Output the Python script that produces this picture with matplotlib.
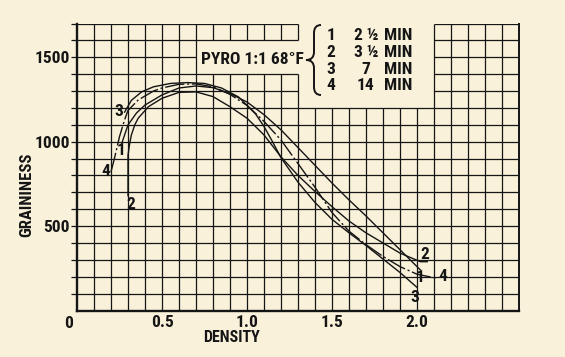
import numpy as np
import matplotlib
matplotlib.use("Agg")
import matplotlib.pyplot as plt
from matplotlib.path import Path
from matplotlib.patches import PathPatch

plt.rcParams['font.family'] = ['Liberation Sans Narrow', 'DejaVu Sans Condensed', 'Roboto Condensed',
                               'Open Sans Condensed', 'Noto Sans', 'DejaVu Sans']
plt.rcParams['font.stretch'] = 'condensed'

# density / graininess values
dens1 = [0.26, 0.28, 0.30, 0.35, 0.40, 0.50, 0.60, 0.70, 0.80, 0.90, 1.00, 1.10, 1.20, 1.30, 1.40, 1.50, 1.60, 1.70, 1.80, 1.90, 2.02]
grain1 = [980, 1040, 1099, 1170, 1217, 1277, 1318, 1330, 1320, 1285, 1235, 1160, 1070, 965, 860, 755, 655, 560, 460, 360, 240]

dens2 = [0.30, 0.30, 0.31, 0.32, 0.34, 0.36, 0.42, 0.50, 0.60, 0.70, 0.80, 0.90, 1.00, 1.10, 1.20, 1.30, 1.40, 1.50, 1.60, 1.70, 1.80, 1.90, 2.02, 2.06]
grain2 = [680, 920, 990, 1040, 1100, 1139, 1207, 1257, 1292, 1295, 1267, 1207, 1139, 1040, 910, 800, 705, 615, 530, 460, 400, 340, 289, 289]

dens3 = [0.28, 0.32, 0.38, 0.45, 0.55, 0.65, 0.75, 0.85, 0.95, 1.05, 1.10, 1.15, 1.20, 1.30, 1.40, 1.50, 1.60, 1.70, 1.80, 1.90, 2.00]
grain3 = [1175, 1245, 1295, 1325, 1345, 1350, 1345, 1318, 1265, 1165, 1090, 1000, 905, 760, 640, 540, 460, 385, 305, 225, 137]

dens4 = [0.20, 0.22, 0.25, 0.28, 0.30, 0.36, 0.45, 0.50, 0.60, 0.70, 0.80, 0.90, 1.00, 1.10, 1.20, 1.30, 1.40, 1.50, 1.60, 1.70, 1.80, 1.90, 2.00, 2.12]
grain4 = [822, 900, 1030, 1130, 1185, 1247, 1300, 1318, 1340, 1342, 1325, 1280, 1215, 1120, 1010, 870, 730, 580, 470, 390, 320, 260, 215, 190]

xtick_vals = [0.5, 1.0, 1.5, 2.0]
xtick_text = ['0.5', '1.0', '1.5', '2.0']
ytick_vals = [500, 1000, 1500]
ytick_text = ['500', '1000', '1500']

legend_nums = ['1', '2', '3', '4']
legend_times = ['2 ½', '3 ½', '7', '14']

paper = '#f9f1da'
ink = '#151515'
fs = 12.5

W, H = 565, 357
def fx(px):
    return px / W
def fy(py):
    return 1 - py / H

fig = plt.figure(figsize=(5.65, 3.57), dpi=100, facecolor=paper)
ax = fig.add_axes([fx(77), fy(310.5), (519 - 77) / W, (310.5 - 23.5) / H])
ax.set_facecolor(paper)
ax.set_xlim(0, 2.6)
ax.set_ylim(0, 1700)
for s in ax.spines.values():
    s.set_visible(False)

# graph paper, with the blank patches where the title sits
glw = 0.9
for i in range(1, 26):
    x = i / 10
    if 13 < i < 21:
        segs = [(0, 1200)]
    elif 7 < i <= 13:
        segs = [(0, 1400), (1600, 1700)]
    else:
        segs = [(0, 1700)]
    for a, b in segs:
        ax.plot([x, x], [a, b], color=ink, lw=glw, solid_capstyle='butt')
for j in range(1, 18):
    y = j * 100
    if j == 15:
        segs = [(0, 0.7), (2.1, 2.6)]
    elif j > 12:
        segs = [(0, 1.3), (2.1, 2.6)]
    else:
        segs = [(0, 2.6)]
    for a, b in segs:
        ax.plot([a, b], [y, y], color=ink, lw=glw, solid_capstyle='butt')

ax.plot([0, 0], [0, 1700], color=ink, lw=1.7, clip_on=False)
ax.plot([0, 2.6], [0, 0], color=ink, lw=1.7, clip_on=False)
ax.plot([2.6, 2.6], [0, 1700], color=ink, lw=1.4, clip_on=False)

# curves
ax.plot(dens1, grain1, color=ink, lw=1.0)
ax.plot(dens2, grain2, color=ink, lw=1.0)
ax.plot(dens3, grain3, color=ink, lw=1.0)
ax.plot(dens4, grain4, color=ink, lw=1.0, linestyle=(0, (14, 2, 1.5, 2)))

lab = dict(fontsize=fs, fontweight='bold', color=ink, ha='center', va='center')
ax.text(0.247, 1176, '3', **lab)
ax.text(0.262, 945, '1', **lab)
ax.text(0.172, 822, '4', **lab)
ax.text(0.318, 625, '2', **lab)
ax.text(2.047, 329, '2', **lab)
ax.text(2.018, 195, '1', **lab)
ax.text(2.153, 204, '4', **lab)
ax.text(1.988, 78, '3', **lab)

# axes ticks and labels
ax.set_xticks(xtick_vals)
ax.set_xticklabels(xtick_text, fontsize=fs, fontweight='bold', color=ink)
ax.tick_params(axis='x', length=0, pad=3)
ax.text(-0.05, -0.02, '0', transform=ax.get_xaxis_transform(), fontsize=fs,
        fontweight='bold', color=ink, ha='center', va='top')
ax.set_yticks(ytick_vals)
ax.set_yticklabels(ytick_text, fontsize=fs, fontweight='bold', color=ink)
ax.set_yticks(np.arange(100, 1800, 100), minor=True)
ax.tick_params(axis='y', which='both', length=4, width=0.9, color=ink, pad=1)

fig.text(fx(232), fy(337), 'DENSITY', fontsize=11.5, fontweight='bold', color=ink,
         ha='center', va='center')
fig.text(fx(27), fy(195), 'GRAININESS', fontsize=12, fontweight='bold', color=ink,
         ha='center', va='center', rotation=90)

# title block with a thin brace
fig.text(fx(304), fy(59), 'PYRO 1:1 68°F', fontsize=fs, fontweight='bold', color=ink,
         ha='right', va='center')
bx, tip, top, bot, mid = 314, 306, 25, 95, 60
verts = [(321, top), (bx, top), (bx, top + 8), (bx, mid - 8), (bx, mid), (tip, mid),
         (bx, mid), (bx, mid + 8), (bx, bot - 8), (bx, bot), (321, bot)]
codes = [Path.MOVETO, Path.CURVE3, Path.CURVE3, Path.LINETO, Path.CURVE3, Path.CURVE3,
         Path.CURVE3, Path.CURVE3, Path.LINETO, Path.CURVE3, Path.CURVE3]
brace = Path([(fx(a), fy(b)) for a, b in verts], codes)
fig.add_artist(PathPatch(brace, transform=fig.transFigure, fill=False, edgecolor=ink, lw=1.4))

rows = [35, 52.5, 70, 86]
for n, t, r in zip(legend_nums, legend_times, rows):
    fig.text(fx(331), fy(r), n, fontsize=fs, fontweight='bold', color=ink, ha='center', va='center')
    fig.text(fx(366), fy(r), t, fontsize=fs, fontweight='bold', color=ink, ha='center', va='center')
    fig.text(fx(384), fy(r), 'MIN', fontsize=fs, fontweight='bold', color=ink, ha='left', va='center')

fig.savefig('out.png', dpi=100, facecolor=paper)
